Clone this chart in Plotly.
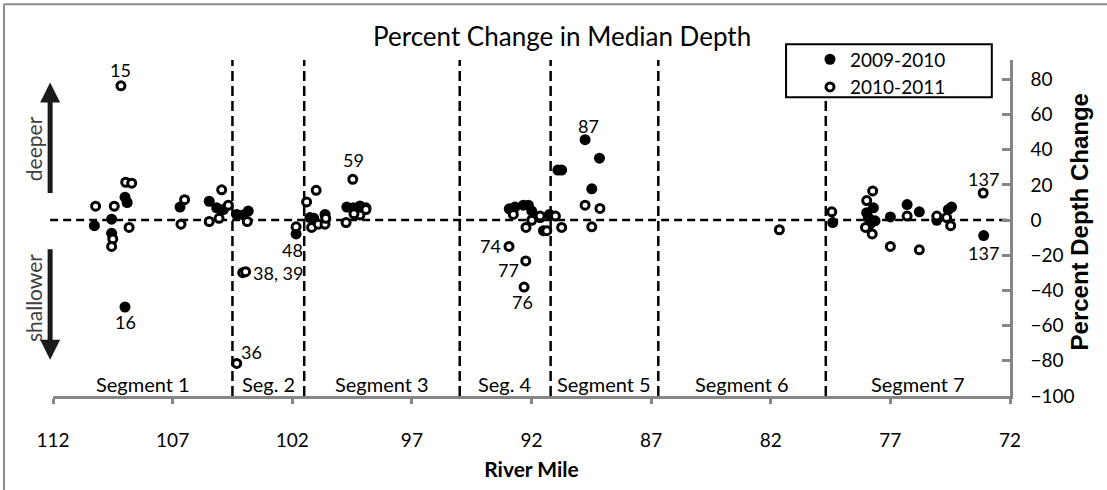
import plotly.graph_objects as go

# ---------------- data ----------------
# 2009-2010 (filled markers)
mile_0910 = [110.27, 109.55, 109.55, 108.99, 108.90, 108.99, 106.69, 105.47, 105.16, 104.88,
             104.32, 104.05, 103.84, 101.84, 101.26, 101.10, 100.63, 99.72, 99.45, 99.17,
             98.92, 92.93, 92.69, 92.34, 92.13, 91.99, 91.64, 91.50, 91.25, 90.90,
             90.74, 89.76, 89.16, 89.48, 79.41, 77.99, 77.92, 77.71, 77.64, 77.85,
             77.00, 76.30, 75.79, 75.06, 74.58, 74.44, 73.10]
chg_0910 = [-3.2, 0.5, -7.5, 13.0, 10.0, -49.4, 7.4, 10.7, 7.0, 6.0,
            3.2, 2.9, 5.1, -7.9, 1.4, 1.0, 3.2, 7.4, 7.0, 8.0,
            7.0, 6.4, 7.4, 8.5, 8.5, 5.1, 1.4, -6.0, 3.2, 28.4,
            28.4, 45.7, 35.2, 17.8, -1.4, 4.2, 1.4, 7.0, -0.4, -2.3,
            1.8, 8.8, 4.7, -0.1, 6.0, 7.4, -8.8]

# 2010-2011 (open markers)
mile_1011 = [110.22, 109.44, 108.96, 108.71, 108.82, 109.50, 109.55, 109.16, 106.65, 106.50,
             104.95, 105.47, 105.06, 104.67, 103.88, 104.07, 103.95, 104.32, 101.84, 101.40,
             101.00, 101.19, 100.91, 100.63, 100.60, 99.47, 99.75, 99.17, 98.92, 99.42,
             92.76, 91.99, 92.23, 91.64, 91.36, 91.00, 90.74, 92.94, 92.24, 92.31,
             89.76, 89.14, 89.48, 81.64, 79.45, 77.74, 77.99, 78.04, 77.76, 77.00,
             76.30, 75.79, 75.06, 74.65, 74.48, 73.12]
chg_1011 = [7.9, 7.9, 21.5, 21.0, -4.2, -10.7, -15.0, 76.3, -2.3, 11.6,
            17.2, -0.8, 1.0, 8.5, -0.8, -29.9, -29.3, -81.5, -3.8, 10.3,
            16.9, -4.2, -2.3, -2.3, 1.0, 23.2, -1.4, 2.9, 6.0, 3.6,
            3.2, -0.1, -4.2, 2.3, -6.0, 2.3, -4.2, -15.0, -23.2, -38.1,
            8.5, 6.6, -3.8, -5.5, 4.7, 16.6, 11.1, -4.2, -7.9, -15.0,
            2.3, -16.9, 2.3, 1.4, -3.2, 15.4]

# segment boundaries (river mile) and names
segment_bounds = [112, 104.5, 101.5, 95.0, 91.2, 86.7, 79.7, 72]
segment_names = ["Segment 1", "Seg. 2", "Segment 3", "Seg. 4", "Segment 5", "Segment 6", "Segment 7"]

# point labels: (text, mile, change, xshift, yshift, xanchor)
point_labels = [
    ("15", 109.16, 76.3, 0, 16, "center"),
    ("16", 108.99, -49.4, 0, -15, "center"),
    ("38, 39", 104.07, -29.9, 8, 0, "left"),
    ("36", 104.32, -81.5, 2, 11, "left"),
    ("48", 101.84, -7.9, -4, -16, "center"),
    ("59", 99.47, 23.2, 1, 19, "center"),
    ("87", 89.76, 45.7, 3, 14, "center"),
    ("74", 92.94, -15.0, -6, 0, "right"),
    ("77", 92.24, -23.2, -17, -9, "center"),
    ("76", 92.31, -38.1, -2, -15, "center"),
    ("137", 73.12, 15.4, 0, 14, "center"),
    ("137", 73.10, -8.8, 0, -17, "center"),
]

x_ticks = [112, 107, 102, 97, 92, 87, 82, 77, 72]
y_ticks = [-100, -80, -60, -40, -20, 0, 20, 40, 60, 80]

FONT = "Lato"
GRAY = "#868686"

fig = go.Figure()
fig.add_trace(go.Scatter(
    x=mile_0910, y=chg_0910, mode="markers", name="2009-2010",
    marker=dict(symbol="circle", size=11, color="black", line=dict(width=0))))
fig.add_trace(go.Scatter(
    x=mile_1011, y=chg_1011, mode="markers", name="2010-2011",
    marker=dict(symbol="circle", size=8, color="white", line=dict(width=3, color="black"))))

shapes = []
# zero line
shapes.append(dict(type="line", xref="paper", yref="y", x0=-0.003, x1=1, y0=0, y1=0,
                   line=dict(color="black", width=2.5, dash="8px,5px"), layer="below"))
# segment boundaries
for b in segment_bounds[1:-1]:
    shapes.append(dict(type="line", xref="x", yref="y", x0=b, x1=b, y0=-100, y1=91,
                       line=dict(color="black", width=2.5, dash="10px,5px"), layer="below"))
# legend box
shapes.append(dict(type="rect", xref="paper", yref="paper", x0=0.766, x1=0.981, y0=0.889, y1=1.0466,
                   line=dict(color="black", width=2), fillcolor="white", layer="above"))
# chart-area border (left and top edges visible)
shapes.append(dict(type="line", xref="paper", yref="paper", x0=-0.0512, x1=-0.0512, y0=-0.3, y1=1.1662,
                   line=dict(color="#8c8c8c", width=2)))
shapes.append(dict(type="line", xref="paper", yref="paper", x0=-0.0512, x1=1.11, y0=1.1662, y1=1.1662,
                   line=dict(color="#8c8c8c", width=2)))

annotations = []
# segment labels
for i, name in enumerate(segment_names):
    cx = (segment_bounds[i] + segment_bounds[i + 1]) / 2
    annotations.append(dict(x=cx, y=-93, xref="x", yref="y", text=name, showarrow=False,
                            xanchor="center", yanchor="middle",
                            font=dict(family=FONT, size=20, color="black")))
# point labels
for txt, mx, my, dx, dy, anc in point_labels:
    annotations.append(dict(x=mx, y=my, xref="x", yref="y", text=txt, showarrow=False,
                            xshift=dx, yshift=dy, xanchor=anc, yanchor="middle",
                            font=dict(family=FONT, size=18, color="black")))
# deeper / shallower arrows
annotations.append(dict(x=-0.003, y=0.933, xref="paper", yref="paper", ax=0, ay=112, axref="pixel",
                        ayref="pixel", text="", showarrow=True, arrowhead=2, arrowsize=0.8,
                        arrowwidth=5, arrowcolor="#1a1a1a"))
annotations.append(dict(x=-0.003, y=0.108, xref="paper", yref="paper", ax=0, ay=-112, axref="pixel",
                        ayref="pixel", text="", showarrow=True, arrowhead=2, arrowsize=0.8,
                        arrowwidth=5, arrowcolor="#1a1a1a"))
annotations.append(dict(x=-0.0209, y=0.7376, xref="paper", yref="paper", text="deeper", textangle=-90,
                        showarrow=False, xanchor="center", yanchor="middle",
                        font=dict(family=FONT, size=21, color="#404040")))
annotations.append(dict(x=-0.0209, y=0.2915, xref="paper", yref="paper", text="shallower", textangle=-90,
                        showarrow=False, xanchor="center", yanchor="middle",
                        font=dict(family=FONT, size=21, color="#404040")))
# right axis title
annotations.append(dict(x=1.073, y=0.519, xref="paper", yref="paper", text="<b>Percent Depth Change</b>",
                        textangle=-90, showarrow=False, xanchor="center", yanchor="middle",
                        font=dict(family="Liberation Sans, Arial", size=24, color="black")))

fig.update_layout(
    width=1107, height=490,
    margin=dict(l=53, r=97, t=60, b=87),
    paper_bgcolor="white", plot_bgcolor="white",
    title=dict(text="Percent Change in Median Depth", x=0.532, xref="paper", y=1 - 37 / 490,
               yref="container", xanchor="center", yanchor="middle",
               font=dict(family=FONT, size=26, color="black")),
    xaxis=dict(range=[112, 72], tickmode="array", tickvals=x_ticks, ticks="outside", ticklen=5,
               tickwidth=2.5, tickcolor=GRAY, showline=True, linecolor=GRAY, linewidth=2.5,
               showgrid=False, zeroline=False, ticklabelstandoff=20,
               tickfont=dict(family=FONT, size=19, color="black"),
               title=dict(text="<b>River Mile</b>", standoff=13,
                          font=dict(family=FONT, size=21, color="black"))),
    yaxis=dict(range=[-100, 91], side="right", tickmode="array", tickvals=y_ticks, ticks="inside",
               ticklen=8, tickwidth=2.5, tickcolor=GRAY, showline=True, linecolor=GRAY, linewidth=2.5,
               showgrid=False, zeroline=False, ticklabelstandoff=14,
               tickfont=dict(family=FONT, size=19, color="black")),
    legend=dict(x=0.791, y=1.0583, xanchor="left", yanchor="top", bgcolor="rgba(0,0,0,0)",
                borderwidth=0, font=dict(family=FONT, size=19, color="black"), tracegroupgap=0),
    shapes=shapes,
    annotations=annotations,
    showlegend=True,
)

fig.write_html("out.html")
